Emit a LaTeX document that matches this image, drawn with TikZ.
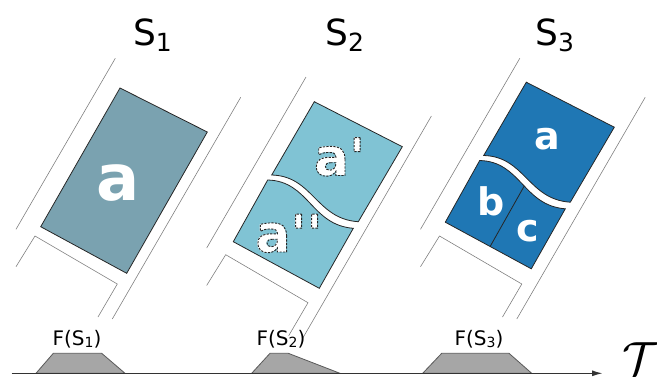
\documentclass[tikz,border=0pt]{standalone}
\usepackage{fontspec}
\newfontfamily\dv{DejaVu Sans}
\usetikzlibrary{arrows.meta}
\definecolor{cA}{HTML}{7AA2B0}
\definecolor{cB}{HTML}{80C3D4}
\definecolor{cC}{HTML}{1F77B4}
\newcommand{\strk}[1]{\special{pdf:literal direct 1 Tr 0.9 w [2.2 1.3] 0 d 0.15 G}#1\special{pdf:literal direct 0 Tr [] 0 d 0 G}}
\newcommand{\tsub}[1]{\raisebox{-0.19em}{\fontsize{25}{25}\selectfont #1}}
\newcommand{\fsub}[1]{\raisebox{-0.12em}{\fontsize{14}{14}\selectfont #1}}
\tikzset{
  chan/.style={draw=black!50, line width=0.6pt},
  piece/.style={draw=black!85, line width=0.8pt, line join=miter},
  bump/.style={fill=black!35, draw=black!65, line width=0.8pt},
  title/.style={font=\dv\fontsize{36}{36}\selectfont, inner sep=0pt, anchor=base},
  flbl/.style={font=\dv\fontsize{20}{20}\selectfont, inner sep=0pt, anchor=base},
  wlet/.style={font=\dv\bfseries, text=white, inner sep=0pt, anchor=base},
  olet/.style={font=\dv\bfseries\fontsize{52}{52}\selectfont, inner sep=0pt, anchor=base west},
}
\newcommand{\pieces}[1]{%
  \draw[piece, fill=#1] (314.3,101.7) -- (402.3,146.7) -- (358.3,221.7)
     .. controls (316,219) and (313,176) .. (271.7,175) -- cycle;
  \draw[piece, fill=#1] (267.7,180) .. controls (309,181) and (311,225) .. (353.3,228.3)
     -- (319.3,288.3) -- (233.3,241.7) -- cycle;
}
\begin{document}
\begin{tikzpicture}[x=1pt,y=-1pt]
\useasboundingbox (0,0) rectangle (657,376);
% channel frames
\foreach \dx/\dy in {0/0,190.7/18.7,404.5/0}{
  \begin{scope}[shift={(\dx,\dy)}]
    \draw[chan] (115.3,58.3) -- (16,229.3);
    \draw[chan] (240.7,97.3) -- (112.3,319);
    \draw[chan] (16,266.7) -- (35,236) -- (117.3,284) -- (98,317);
  \end{scope}
}
% panel 1
\draw[piece, fill=cA] (120,88) -- (207.3,132) -- (126.7,273.3) -- (40.7,226.7) -- cycle;
\node[wlet, font=\dv\bfseries\fontsize{64}{64}\selectfont] (la1) at (118,200.3) {a};
% panel 2
\pieces{cB}
\node[olet, text=white] (la2f) at (313.8,175.5) {a'};
\node[olet] (la2s) at (313.8,175.5) {\strk{a'}};
\node[olet, text=white] (lb2f) at (255.4,252) {a''};
\node[olet] (lb2s) at (255.4,252) {\strk{a''}};
% panel 3
\begin{scope}[shift={(212,-19.5)}]
  \pieces{cC}
  \coordinate (d0) at (312.2,205.6);
  \coordinate (d1) at (278,266.2);
  \draw[piece] (d0) -- (d1);
\end{scope}
\node[wlet, font=\dv\bfseries\fontsize{38}{38}\selectfont] (la3) at (547.5,149) {a};
\node[wlet, font=\dv\bfseries\fontsize{38}{38}\selectfont] (lb3) at (490.8,215) {b};
\node[wlet, font=\dv\bfseries\fontsize{38}{38}\selectfont] (lc3) at (528,241.7) {c};
% titles
\node[title] (s1) at (152.5,45) {S\tsub{1}};
\node[title] (s2) at (344.7,45) {S\tsub{2}};
\node[title] (s3) at (554.7,45) {S\tsub{3}};
% timeline
\draw[bump] (36,373.3) -- (53.3,353.3) -- (101.7,353.3) -- (125,373.3) -- cycle;
\draw[bump] (251.7,373.3) -- (270,353.3) -- (288.3,353.3) -- (340,373.3) -- cycle;
\draw[bump] (422.7,373.3) -- (441.7,353.3) -- (509,353.3) -- (531.7,373.3) -- cycle;
\coordinate (t0) at (11.7,373.3);
\coordinate (t1) at (603,373.3);
\draw[line width=1.5pt, black!80, -{Latex[length=11pt,width=6pt]}] (t0) -- (t1);
\node[flbl] (f1) at (77,345) {F(S\fsub{1})};
\node[flbl] (f2) at (281,345) {F(S\fsub{2})};
\node[flbl] (f3) at (479,345) {F(S\fsub{3})};
\node[inner sep=0pt, anchor=base west] (tau) at (622,375) {\scalebox{4.8}{$\mathcal{T}$}};
\end{tikzpicture}
\end{document}
